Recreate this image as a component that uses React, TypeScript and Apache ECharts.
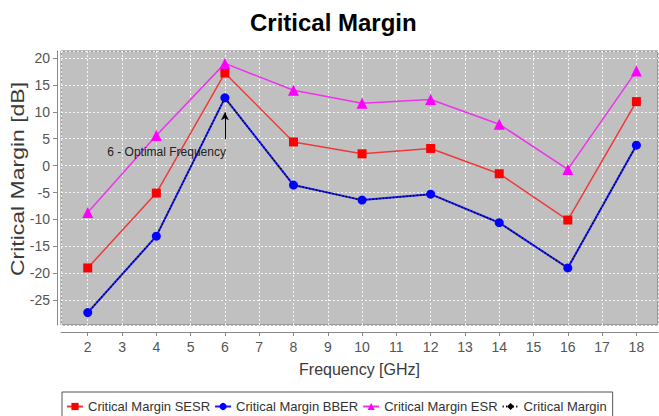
import React, { useEffect, useRef } from "react";
import * as echarts from "echarts";

const frequencies = [2, 4, 6, 8, 10, 12, 14, 16, 18];
const sesrValues = [-19.0, -5.1, 17.2, 4.4, 2.2, 3.2, -1.5, -10.1, 11.9];
const bberValues = [-27.3, -13.1, 12.6, -3.6, -6.4, -5.3, -10.6, -19.0, 3.8];
const esrValues = [-8.7, 5.6, 19.0, 14.0, 11.6, 12.3, 7.7, -0.7, 17.6];
const criticalValues = [-27.3, -13.1, 12.6, -3.6, -6.4, -5.3, -10.6, -19.0, 3.8];
const seriesNames = [
  "Critical Margin SESR",
  "Critical Margin BBER",
  "Critical Margin ESR",
  "Critical Margin",
];
const yAxisTitle = "Critical Margin [dB]";
const annotationText = "6 - Optimal Frequency";
const annotationX = 6;
const arrowFrom = 4.9;
const arrowTo = 9.9;
const annotationY = 2.5;

const FONT = "'Liberation Sans', Arial, sans-serif";

function pairs(vals: number[]) {
  return frequencies.map((f, i) => [f, vals[i]]);
}

export default function App() {
  const ref = useRef<HTMLDivElement>(null);
  useEffect(() => {
    if (!ref.current) return;
    const chart = echarts.init(ref.current, null, { renderer: "svg" });
    chart.setOption({
      animation: false,
      backgroundColor: "#ffffff",
      title: {
        text: "Critical Margin",
        left: 250,
        top: 10,
        padding: 0,
        textStyle: {
          fontFamily: FONT,
          fontWeight: "bold",
          fontSize: 24,
          color: "#000",
        },
      },
      graphic: [
        {
          type: "text",
          x: 17,
          y: 179,
          rotation: Math.PI / 2,
          scaleY: 0.82,
          silent: true,
          style: {
            text: yAxisTitle,
            fontFamily: FONT,
            fontSize: 23,
            fill: "#3a3a3a",
            align: "center",
            verticalAlign: "middle",
          },
        },
      ],
      legend: {
        left: 62,
        top: 392,
        orient: "horizontal",
        itemWidth: 16,
        itemHeight: 9,
        itemGap: 4,
        padding: [8, 6, 8, 4],
        borderColor: "#555",
        borderWidth: 1,
        borderRadius: 0,
        textStyle: { fontFamily: FONT, fontSize: 13, color: "#333" },
        data: seriesNames,
      },
      grid: {
        left: 61,
        right: 1,
        top: 51,
        bottom: 91,
        show: true,
        containLabel: false,
        outerBoundsMode: "none",
        backgroundColor: "#c0c0c0",
        borderColor: "#777",
        borderWidth: 1,
      },
      xAxis: {
        type: "value",
        min: 1.22,
        max: 18.63,
        splitNumber: 17,
        minInterval: 1,
        maxInterval: 1,
        offset: 7,
        name: "Frequency [GHz]",
        nameLocation: "middle",
        nameGap: 29,
        nameTextStyle: { fontFamily: FONT, fontSize: 16, color: "#3a3a3a" },
        axisLine: { show: true, onZero: false, lineStyle: { color: "#888", width: 1 } },
        axisTick: { show: true, inside: false, length: 4, lineStyle: { color: "#888" } },
        axisLabel: {
          fontFamily: FONT,
          fontSize: 14,
          color: "#555",
          margin: 8,
          showMinLabel: false,
          showMaxLabel: false,
          formatter: (v: number) => (Math.abs(v - Math.round(v)) < 1e-6 ? String(Math.round(v)) : ""),
        },
        splitLine: { show: true, lineStyle: { color: "#ffffff", width: 1, type: [2, 2], opacity: 0.85 } },
      },
      yAxis: {
        type: "value",
        min: -29.6,
        max: 21.3,
        splitNumber: 10,
        minInterval: 5,
        maxInterval: 5,
        offset: 4,
        axisLine: { show: true, onZero: false, lineStyle: { color: "#888", width: 1 } },
        axisTick: { show: true, inside: false, length: 4, lineStyle: { color: "#888" } },
        axisLabel: {
          fontFamily: FONT,
          fontSize: 14,
          color: "#555",
          margin: 7,
          showMinLabel: false,
          showMaxLabel: false,
          formatter: (v: number) => (Math.abs(v / 5 - Math.round(v / 5)) < 1e-6 ? String(Math.round(v)) : ""),
        },
        splitLine: { show: true, lineStyle: { color: "#ffffff", width: 1, type: [2, 2], opacity: 0.85 } },
      },
      series: [
        {
          name: seriesNames[0],
          type: "line",
          data: pairs(sesrValues),
          symbol: "rect",
          symbolSize: 9,
          itemStyle: { color: "#ff0000" },
          lineStyle: { color: "#ee3a3a", width: 1.5 },
        },
        {
          name: seriesNames[1],
          type: "line",
          data: pairs(bberValues),
          symbol: "circle",
          symbolSize: 9,
          itemStyle: { color: "#0000ff" },
          lineStyle: { color: "#1a1aff", width: 2 },
        },
        {
          name: seriesNames[2],
          type: "line",
          data: pairs(esrValues),
          symbol: "triangle",
          symbolSize: 11,
          itemStyle: { color: "#ff00ff" },
          lineStyle: { color: "#ee33ee", width: 1.5 },
        },
        {
          name: seriesNames[3],
          type: "line",
          data: pairs(criticalValues),
          symbol: "diamond",
          showSymbol: false,
          symbolSize: 6,
          itemStyle: { color: "#000000" },
          lineStyle: { color: "#000000", width: 1.4, type: [1.2, 2.2] },
          markLine: {
            silent: true,
            symbol: ["none", "arrow"],
            symbolSize: [6, 8],
            label: { show: false },
            lineStyle: { color: "#000", width: 1, type: "solid" },
            data: [[{ coord: [annotationX, arrowFrom] }, { coord: [annotationX, arrowTo] }]],
          },
          markPoint: {
            silent: true,
            symbol: "rect",
            symbolSize: 0,
            label: {
              show: true,
              position: [0, 0],
              align: "right",
              verticalAlign: "middle",
              formatter: annotationText,
              fontFamily: FONT,
              fontSize: 12,
              color: "#222",
            },
            data: [{ coord: [annotationX + 0.03, annotationY] }],
          },
        },
      ],
    });
    return () => chart.dispose();
  }, []);
  return <div ref={ref} style={{ width: 659, height: 416, position: "absolute", left: 0, top: 0 }} />;
}
